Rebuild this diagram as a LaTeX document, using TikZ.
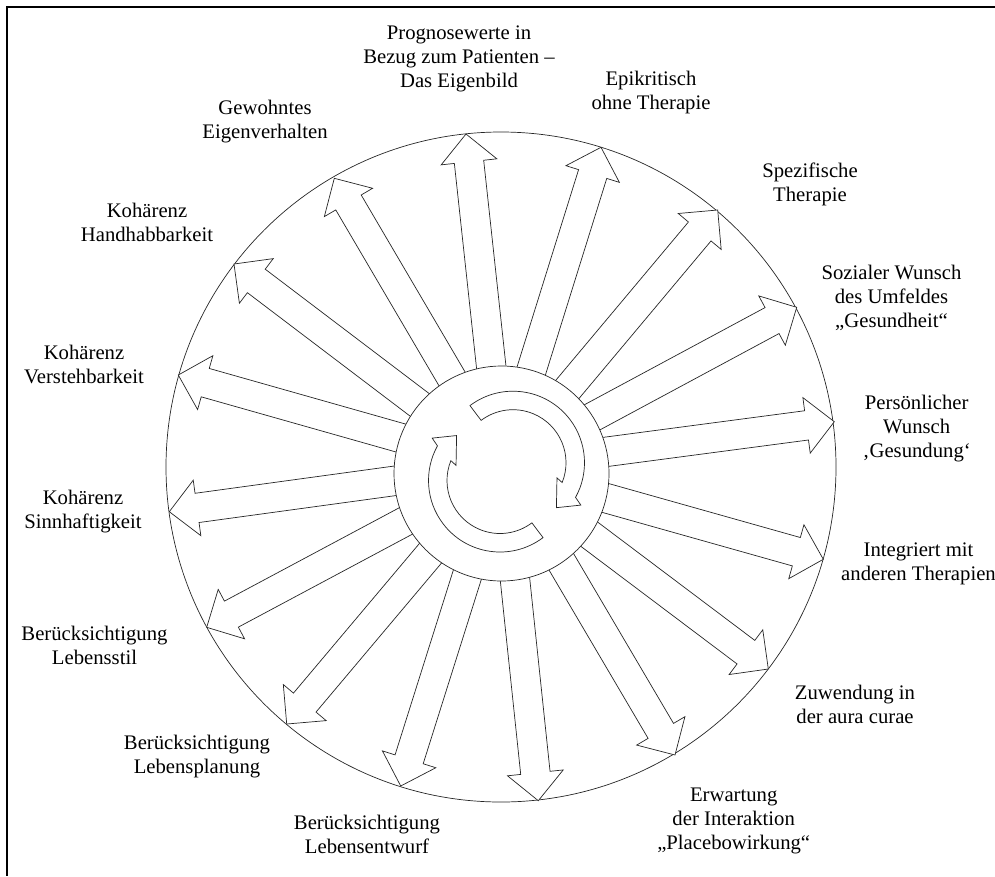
\documentclass[tikz,border=0pt]{standalone}
\usepackage{fontspec}
\setmainfont{Liberation Serif}
\usetikzlibrary{calc}

\tikzset{
  frame/.style={draw=black, line width=1.8pt},
  ring/.style={draw=black!85, line width=0.7pt},
  ray/.style={draw=black!85, line width=0.7pt, fill=white, line join=miter},
  lbl/.style={anchor=north, align=center, inner sep=0pt, font=\fontsize{20.7}{24}\selectfont},
}

\newcommand{\blockray}[2]{%
  \path ($(#2)!-10pt!(#1)$) coordinate (rb) ($(#1)!28pt!(#2)$) coordinate (rh);
  \draw[ray] ($(rb)!14.75pt!90:(#1)$) -- ($(rh)!14.75pt!90:(#1)$) -- ($(rh)!28pt!90:(#1)$) -- (#1)
    -- ($(rh)!28pt!-90:(#1)$) -- ($(rh)!14.75pt!-90:(#1)$) -- ($(rb)!14.75pt!-90:(#1)$) -- cycle;
}

\begin{document}
\begin{tikzpicture}[x=1pt,y=-1pt]
  \useasboundingbox (0,0) rectangle (995,876);
  \draw[frame] (995,7) -- (7,7) -- (7,876);

  \coordinate (oc) at (501,467);
  \draw[ring] (oc) circle[radius=335];

  \coordinate (t1) at (466,134);      \coordinate (b1) at (491.3,367.5);
  \coordinate (t2) at (601,147.3);    \coordinate (b2) at (531.3,370.7);
  \coordinate (t3) at (717.7,210);    \coordinate (b3) at (568.3,388.3);
  \coordinate (t4) at (796.7,307.3);  \coordinate (b4) at (593.3,416.7);
  \coordinate (t5) at (834.3,421.7);  \coordinate (b5) at (607.2,451.7);
  \coordinate (t6) at (823.3,559.3);  \coordinate (b6) at (606.7,498.3);
  \coordinate (t7) at (768.3,669);    \coordinate (b7) at (590.3,535);
  \coordinate (t8) at (675,755);      \coordinate (b8) at (561.7,562.5);
  \coordinate (t9) at (538.3,800.7);  \coordinate (b9) at (515,579.5);
  \coordinate (t10) at (400.7,786);   \coordinate (b10) at (467,575.8);
  \coordinate (t11) at (286.7,724);   \coordinate (b11) at (430,553.8);
  \coordinate (t12) at (206.7,627.3); \coordinate (b12) at (406.3,520.7);
  \coordinate (t13) at (169.3,511.7); \coordinate (b13) at (395,480.8);
  \coordinate (t14) at (178.3,375);   \coordinate (b14) at (400,437.8);
  \coordinate (t15) at (234,264);     \coordinate (b15) at (419.2,404.5);
  \coordinate (t16) at (334.3,178.3); \coordinate (b16) at (451.7,378.3);
  \foreach \i in {1,...,16} {\blockray{t\i}{b\i}}

  \coordinate (ic) at (501.5,473.5);
  \draw[ring, fill=white] (ic) circle[radius=107.5];

  \coordinate (lc) at (500,480.5);
  \coordinate (uc) at (513,462.7);
  \foreach \c/\r in {lc/0, uc/180}
    \draw[ray, shift={(\c)}, rotate=\r] (53:71.5) arc[start angle=53, end angle=209, radius=71.5]
      -- (212:80) -- (226:62.5) -- (199:46.5) -- (202:53) arc[start angle=202, end angle=53, radius=53] -- cycle;

  \node[lbl] (prognose) at (459,25.5) {Prognosewerte in\\Bezug zum Patienten –\\Das Eigenbild};
  \node[lbl] (epikrit) at (651,71.3) {Epikritisch\\ohne Therapie};
  \node[lbl] (spezif) at (810,162.8) {Spezifische\\Therapie};
  \node[lbl] (sozial) at (891.5,264.5) {Sozialer Wunsch\\des Umfeldes\\„Gesundheit“};
  \node[lbl] (persoen) at (916.7,394.5) {Persönlicher\\Wunsch\\‚Gesundung‘};
  \node[lbl] (integr) at (918.5,542.8) {Integriert mit\\anderen Therapien};
  \node[lbl] (zuwend) at (855,684.5) {Zuwendung in\\der aura curae};
  \node[lbl] (erwart) at (733.7,787.8) {Erwartung\\der Interaktion\\„Placebowirkung“};
  \node[lbl] (entwurf) at (367,814.5) {Berücksichtigung\\Lebensentwurf};
  \node[lbl] (planung) at (197,734.5) {Berücksichtigung\\Lebensplanung};
  \node[lbl] (stil) at (94.5,625.5) {Berücksichtigung\\Lebensstil};
  \node[lbl] (sinn) at (83,490.2) {Kohärenz\\Sinnhaftigkeit};
  \node[lbl] (verst) at (84,344.5) {Kohärenz\\Verstehbarkeit};
  \node[lbl] (handh) at (147,202.5) {Kohärenz\\Handhabbarkeit};
  \node[lbl] (gewohnt) at (265,99.5) {Gewohntes\\Eigenverhalten};
\end{tikzpicture}
\end{document}
